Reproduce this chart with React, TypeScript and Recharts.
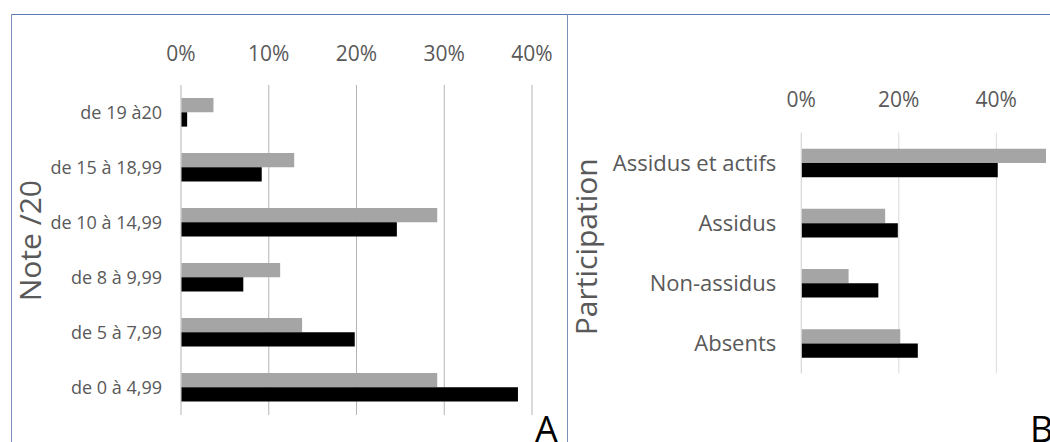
import React from 'react';
import { BarChart, Bar, XAxis, YAxis, CartesianGrid } from 'recharts';

// Panel A: distribution of grades (/20)
const noteCategories = ['de 19 à20', 'de 15 à 18,99', 'de 10 à 14,99', 'de 8 à 9,99', 'de 5 à 7,99', 'de 0 à 4,99'];
const noteGray = [0.037, 0.129, 0.292, 0.113, 0.138, 0.292];
const noteBlack = [0.007, 0.092, 0.246, 0.071, 0.198, 0.384];
const noteTicks = [0, 0.1, 0.2, 0.3, 0.4];

// Panel B: participation (axis runs to 60%, the visible ticks stop at 40%)
const participationCategories = ['Assidus et actifs', 'Assidus', 'Non-assidus', 'Absents'];
const participationGray = [0.502, 0.172, 0.097, 0.203];
const participationBlack = [0.403, 0.198, 0.158, 0.239];
const participationTicks = [0, 0.2, 0.4];

const noteData = noteCategories.map((cat, i) => ({ cat, gray: noteGray[i], black: noteBlack[i] }));
const participationData = participationCategories.map((cat, i) => ({
  cat,
  gray: participationGray[i],
  black: participationBlack[i],
}));

const FONT = '"Open Sans", sans-serif';
const TEXT = '#595959';
const GRAY = '#A5A5A5';
const pct = (v: number) => `${Math.round(v * 100)}%`;

function NoteChart() {
  return (
    <BarChart
      layout="vertical"
      width={567}
      height={442}
      data={noteData}
      margin={{ top: 55, right: 35, left: 0, bottom: 27 }}
      barGap={0}
      barSize={14.3}
    >
      <CartesianGrid horizontal={false} stroke="#B5B5B5" />
      <XAxis
        type="number"
        orientation="top"
        domain={[0, 0.4]}
        ticks={noteTicks}
        tickFormatter={pct}
        axisLine={false}
        tickLine={false}
        tickSize={0}
        tickMargin={24}
        height={30}
        tick={{ fill: TEXT, fontSize: 21, fontFamily: FONT }}
      />
      <YAxis
        type="category"
        dataKey="cat"
        width={181}
        interval={0}
        axisLine={{ stroke: '#D9D9D9' }}
        tickLine={false}
        tickSize={0}
        tickMargin={19}
        tick={{ fill: TEXT, fontSize: 18, fontFamily: FONT }}
      />
      <Bar dataKey="gray" fill={GRAY} isAnimationActive={false} />
      <Bar dataKey="black" fill="#000000" isAnimationActive={false} />
    </BarChart>
  );
}

function ParticipationChart() {
  return (
    <BarChart
      layout="vertical"
      width={560}
      height={442}
      data={participationData}
      margin={{ top: 92.7, right: 33.2, left: 0, bottom: 68.7 }}
      barGap={0}
      barSize={14.3}
    >
      <CartesianGrid horizontal={false} stroke="#D9D9D9" />
      <XAxis
        type="number"
        orientation="top"
        domain={[0, 0.6]}
        ticks={participationTicks}
        tickFormatter={pct}
        axisLine={false}
        tickLine={false}
        tickSize={0}
        tickMargin={26}
        height={40}
        tick={{ fill: TEXT, fontSize: 21, fontFamily: FONT }}
      />
      <YAxis
        type="category"
        dataKey="cat"
        width={234.3}
        interval={0}
        axisLine={{ stroke: '#D9D9D9' }}
        tickLine={false}
        tickSize={0}
        tickMargin={25}
        tick={{ fill: TEXT, fontSize: 22, fontFamily: FONT }}
      />
      <Bar dataKey="gray" fill={GRAY} isAnimationActive={false} />
      <Bar dataKey="black" fill="#000000" isAnimationActive={false} />
    </BarChart>
  );
}

export default function App() {
  return (
    <div
      style={{
        position: 'absolute',
        left: 0,
        top: 0,
        width: 1050,
        height: 442,
        overflow: 'hidden',
        background: '#ffffff',
      }}
    >
      <div style={{ position: 'absolute', left: 0, top: 0 }}>
        <NoteChart />
      </div>
      <div style={{ position: 'absolute', left: 567, top: 0 }}>
        <ParticipationChart />
      </div>
      <svg
        width={1050}
        height={442}
        style={{ position: 'absolute', left: 0, top: 0, pointerEvents: 'none' }}
      >
        {/* frame lines */}
        <line x1={11} y1={14.5} x2={1050} y2={14.5} stroke="#5B7BB5" strokeWidth={1} />
        <line x1={11.5} y1={14} x2={11.5} y2={442} stroke="#7D90BA" strokeWidth={1} />
        <line x1={567.5} y1={14} x2={567.5} y2={442} stroke="#7D90BA" strokeWidth={1} />
        {/* axis titles */}
        <text
          x={40.7}
          y={240.7}
          transform="rotate(-90, 40.7, 240.7)"
          textAnchor="middle"
          fill={TEXT}
          fontSize={30}
          fontFamily={FONT}
        >
          Note /20
        </text>
        <text
          x={596.7}
          y={246.7}
          transform="rotate(-90, 596.7, 246.7)"
          textAnchor="middle"
          fill={TEXT}
          fontSize={30}
          fontFamily={FONT}
        >
          Participation
        </text>
        {/* panel letters */}
        <text x={535} y={442} fill="#000000" fontSize={36} fontFamily={FONT}>
          A
        </text>
        <text x={1030} y={442} fill="#000000" fontSize={36} fontFamily={FONT}>
          B
        </text>
      </svg>
    </div>
  );
}
